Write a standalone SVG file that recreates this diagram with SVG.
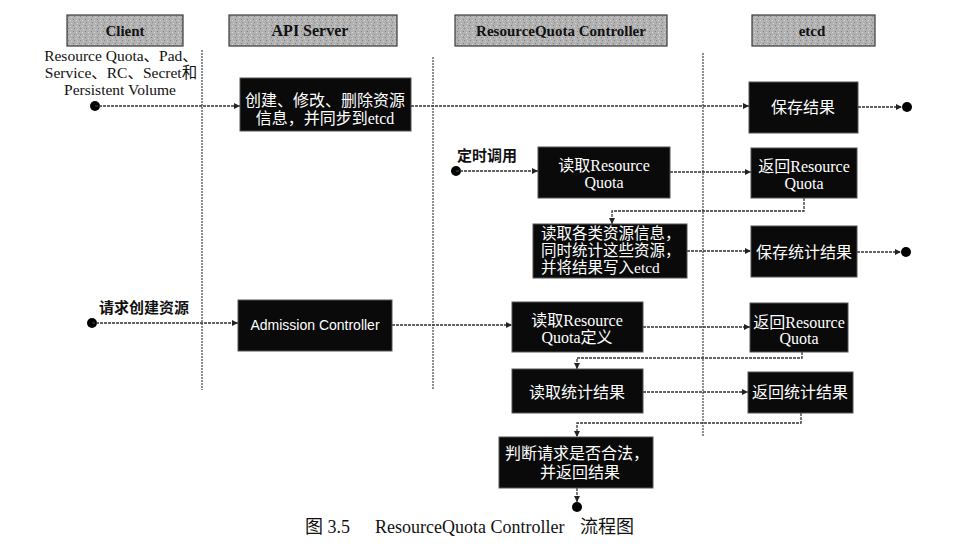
<svg xmlns="http://www.w3.org/2000/svg" width="962" height="557" viewBox="0 0 962 557">
<style>
  .hdr { stroke: #3a3a3a; stroke-width: 1.2; fill: url(#stip); }
  .hdrt { font-family: "Liberation Serif", serif; font-weight: bold; font-size: 15px; fill: #111; text-anchor: middle; }
  .box { fill: #0a0a0a; stroke: #555; stroke-width: 1; }
  .bt { font-family: "Liberation Serif", "Noto Sans CJK SC", serif; font-size: 16px; fill: #fff; text-anchor: middle; }
  .lane { stroke: #444; stroke-width: 1.2; stroke-dasharray: 2 1; fill: none; }
  .con { stroke: #333; stroke-width: 1.3; stroke-dasharray: 3 1; fill: none; }
  .dot { fill: #000; }
  .lbl { font-family: "Noto Sans CJK SC", sans-serif; font-weight: bold; font-size: 15px; fill: #111; }
  .ct { font-family: "Liberation Serif", "Noto Sans CJK SC", serif; font-size: 15.5px; fill: #111; text-anchor: middle; }
</style>
<defs>
  <pattern id="stip" width="6" height="6" patternUnits="userSpaceOnUse">
    <rect width="6" height="6" fill="#b2b2b2"/>
    <rect x="1" y="1" width="1" height="1" fill="#7e7e7e"/>
    <rect x="4" y="2" width="1" height="1" fill="#d8d8d8"/>
    <rect x="2" y="4" width="1" height="1" fill="#858585"/>
    <rect x="5" y="5" width="1" height="1" fill="#d2d2d2"/>
  </pattern>
  <marker id="arr" viewBox="0 0 10 10" refX="10" refY="5" markerWidth="9" markerHeight="6" markerUnits="userSpaceOnUse" orient="auto">
    <path d="M0,0 L10,5 L0,10 z" fill="#222"/>
  </marker>
</defs>
<rect width="962" height="557" fill="#fff"/>

<g id="headers">
  <g id="hdr-client"><rect class="hdr" x="67" y="15" width="116" height="31"/><text class="hdrt" x="125" y="36">Client</text></g>
  <g id="hdr-api"><rect class="hdr" x="229" y="15" width="168" height="31"/><text class="hdrt" x="310" y="36" style="font-size:16px">API Server</text></g>
  <g id="hdr-rqc"><rect class="hdr" x="455" y="15" width="212" height="31"/><text class="hdrt" x="561" y="36">ResourceQuota Controller</text></g>
  <g id="hdr-etcd"><rect class="hdr" x="752" y="15" width="123" height="31"/><text class="hdrt" x="812" y="36">etcd</text></g>
</g>

<g id="lanes">
  <line class="lane" x1="202" y1="50" x2="202" y2="390"/>
  <line class="lane" x1="433" y1="57" x2="433" y2="390"/>
  <line class="lane" x1="703" y1="53" x2="703" y2="437"/>
</g>

<g id="client-text">
  <text class="ct" x="121" y="61">Resource Quota、Pad、</text>
  <text class="ct" x="121" y="78">Service、RC、Secret和</text>
  <text class="ct" x="120" y="95">Persistent Volume</text>
  <text class="lbl" x="457" y="161">定时调用</text>
  <text class="lbl" x="99" y="313">请求创建资源</text>
</g>

<g id="connectors">
  <circle class="dot" cx="95" cy="106" r="5"/>
  <path class="con" d="M95,106 H240" marker-end="url(#arr)"/>
  <path class="con" d="M411,106 H749" marker-end="url(#arr)"/>
  <path class="con" d="M858,107 H902" marker-end="url(#arr)"/>
  <circle class="dot" cx="907" cy="107" r="5"/>
  <circle class="dot" cx="456" cy="171" r="5"/>
  <path class="con" d="M456,171 H538" marker-end="url(#arr)"/>
  <path class="con" d="M670,172 H751" marker-end="url(#arr)"/>
  <path class="con" d="M804,198 V211 H612 V224" marker-end="url(#arr)"/>
  <path class="con" d="M687,251 H751" marker-end="url(#arr)"/>
  <path class="con" d="M857,252 H901" marker-end="url(#arr)"/>
  <circle class="dot" cx="906" cy="252" r="5"/>
  <circle class="dot" cx="92" cy="323" r="5"/>
  <path class="con" d="M92,323 H238" marker-end="url(#arr)"/>
  <path class="con" d="M392,325 H512" marker-end="url(#arr)"/>
  <path class="con" d="M643,327 H750" marker-end="url(#arr)"/>
  <path class="con" d="M802,352 V358 H577 V369" marker-end="url(#arr)"/>
  <path class="con" d="M643,392 H748" marker-end="url(#arr)"/>
  <path class="con" d="M801,413 V423 H577 V437" marker-end="url(#arr)"/>
  <path class="con" d="M577,488 V502" marker-end="url(#arr)"/>
  <circle class="dot" cx="577" cy="507" r="5"/>
</g>

<g id="n-create"><rect class="box" x="240" y="78" width="171" height="53"/>
  <text class="bt" x="325" y="106">创建、修改、删除资源</text>
  <text class="bt" x="325" y="124">信息，并同步到etcd</text></g>
<g id="n-save"><rect class="box" x="749" y="82" width="109" height="51"/>
  <text class="bt" x="803" y="113">保存结果</text></g>
<g id="n-readrq1"><rect class="box" x="538" y="147" width="132" height="51"/>
  <text class="bt" x="604" y="171">读取Resource</text>
  <text class="bt" x="604" y="188">Quota</text></g>
<g id="n-retrq1"><rect class="box" x="751" y="148" width="106" height="50"/>
  <text class="bt" x="804" y="172">返回Resource</text>
  <text class="bt" x="804" y="189">Quota</text></g>
<g id="n-readall"><rect class="box" x="533" y="224" width="154" height="54"/>
  <text class="bt" x="541" y="239" style="text-anchor:start;font-size:15.5px">读取各类资源信息，</text>
  <text class="bt" x="541" y="256" style="text-anchor:start;font-size:15.5px">同时统计这些资源，</text>
  <text class="bt" x="541" y="273" style="text-anchor:start;font-size:15.5px">并将结果写入etcd</text></g>
<g id="n-savestat"><rect class="box" x="751" y="226" width="106" height="51"/>
  <text class="bt" x="804" y="258">保存统计结果</text></g>
<g id="n-admission"><rect class="box" x="238" y="300" width="154" height="51"/>
  <text class="bt" x="315" y="330" style="font-family:'Liberation Sans',sans-serif;font-size:14px">Admission Controller</text></g>
<g id="n-readrq2"><rect class="box" x="512" y="302" width="131" height="50"/>
  <text class="bt" x="577" y="326">读取Resource</text>
  <text class="bt" x="577" y="343">Quota定义</text></g>
<g id="n-retrq2"><rect class="box" x="750" y="303" width="98" height="49"/>
  <text class="bt" x="799" y="328">返回Resource</text>
  <text class="bt" x="799" y="344">Quota</text></g>
<g id="n-readstat"><rect class="box" x="512" y="369" width="131" height="44"/>
  <text class="bt" x="577" y="398">读取统计结果</text></g>
<g id="n-retstat"><rect class="box" x="748" y="372" width="105" height="41"/>
  <text class="bt" x="800" y="398">返回统计结果</text></g>
<g id="n-judge"><rect class="box" x="499" y="437" width="154" height="51"/>
  <text class="bt" x="577" y="459">判断请求是否合法，</text>
  <text class="bt" x="580" y="478">并返回结果</text></g>

<g id="caption">
  <text font-family="'Liberation Serif', 'Noto Sans CJK SC', serif" font-size="18" fill="#111" y="533">
    <tspan x="305">图 3.5</tspan><tspan x="375">ResourceQuota Controller</tspan><tspan x="580">流程图</tspan>
  </text>
</g>
</svg>
